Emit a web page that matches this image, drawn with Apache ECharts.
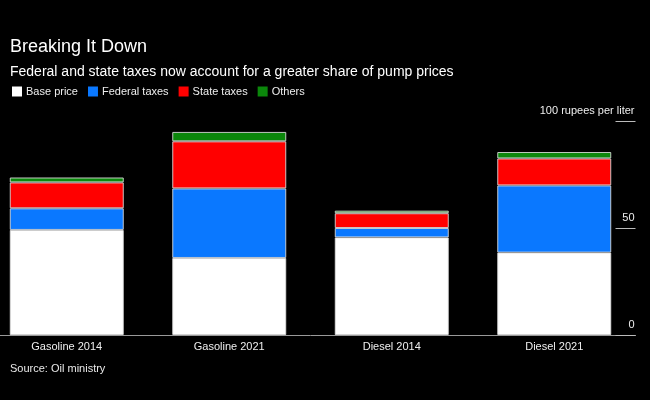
<!DOCTYPE html>
<html>
<head>
<meta charset="utf-8">
<script src="https://cdn.jsdelivr.net/npm/echarts@6/dist/echarts.min.js"></script>
<style>
html,body{margin:0;padding:0;background:#000;overflow:hidden;}
#c{position:absolute;left:-25px;top:0;width:675px;height:400px;}
</style>
</head>
<body>
<div id="c"></div>
<script>
var categories = ['Gasoline 2014', 'Gasoline 2021', 'Diesel 2014', 'Diesel 2021'];
var basePrice = [49.1, 36.0, 45.6, 38.5];
var federalTaxes = [10.1, 32.5, 4.4, 31.4];
var stateTaxes = [12.1, 22.0, 6.9, 12.6];
var others = [2.3, 4.4, 1.2, 3.0];
var yTicks = [0, 50, 100];

var FONT = 'Liberation Sans, Arial, sans-serif';
var OFF = 25; // container is shifted 25px left of the page
var chart = echarts.init(document.getElementById('c'));

function seg(name, data, color) {
  return {
    name: name, type: 'bar', stack: 'total', data: data, barWidth: 114,
    itemStyle: { color: color, borderColor: 'rgba(225,225,225,0.85)', borderWidth: 1 },
    emphasis: { disabled: true }
  };
}

chart.setOption({
  backgroundColor: '#000',
  animation: false,
  textStyle: { fontFamily: FONT },
  title: [
    { text: 'Breaking It Down', left: OFF + 5, top: 33, textStyle: { color: '#fff', fontSize: 18, fontWeight: 'normal', fontFamily: FONT } },
    { text: 'Federal and state taxes now account for a greater share of pump prices', left: OFF + 5, top: 60, textStyle: { color: '#fff', fontSize: 14, fontWeight: 'normal', fontFamily: FONT } },
    { text: 'Source: Oil ministry', left: OFF + 5, top: 358, textStyle: { color: '#e8e8e8', fontSize: 11, fontWeight: 'normal', fontFamily: FONT } }
  ],
  legend: {
    left: OFF + 7, top: 81, icon: 'rect', itemWidth: 10, itemHeight: 10, itemGap: 10,
    itemStyle: { borderWidth: 0 },
    textStyle: { color: '#eee', fontSize: 11, fontFamily: FONT, padding: [0, 0, 0, -1] },
    data: ['Base price', 'Federal taxes', 'State taxes', 'Others']
  },
  grid: { left: OFF - 14.5, right: 14.5, top: 121, bottom: 65, containLabel: false },
  xAxis: {
    type: 'category', data: categories,
    axisLine: { lineStyle: { color: '#999', width: 1 } },
    axisTick: { show: false },
    axisLabel: { color: '#eee', fontSize: 11, margin: 6, fontFamily: FONT }
  },
  yAxis: {
    type: 'value', position: 'right', min: 0, max: 100, interval: 50,
    axisLine: { show: false },
    axisTick: { show: true, inside: true, length: 20, lineStyle: { color: '#bbb', width: 1 } },
    splitLine: { show: false },
    axisLabel: {
      inside: true, margin: 1, color: '#eee', fontSize: 11, fontFamily: FONT,
      verticalAlign: 'bottom', padding: [0, 0, 5, 0],
      formatter: function (v) { return v === 100 ? '100 rupees per liter' : String(v); }
    }
  },
  series: [
    seg('Base price', basePrice, '#ffffff'),
    seg('Federal taxes', federalTaxes, '#0a78ff'),
    seg('State taxes', stateTaxes, '#ff0000'),
    seg('Others', others, '#0b870b')
  ]
});
</script>
</body>
</html>
